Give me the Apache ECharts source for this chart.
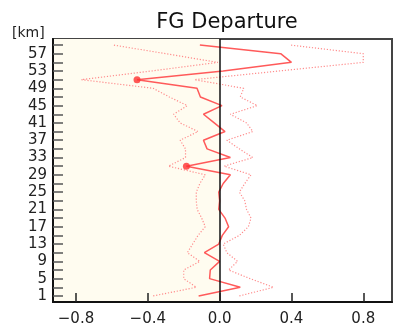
<!DOCTYPE html>
<html>
<head>
<meta charset="utf-8">
<script src="https://cdn.jsdelivr.net/npm/echarts@6/dist/echarts.min.js"></script>
<style>html,body{margin:0;padding:0;background:#fff;}#c{width:394px;height:331px;}</style>
</head>
<body>
<div id="c"></div>
<script>
// Levels (km)
const levels = [1,3,5,7,9,11,13,15,17,19,21,23,25,27,29,31,33,35,37,39,41,43,45,47,49,51,53,55,57,59];
// Mean FG departure (solid)
const meanDep = [-0.117,0.115,-0.056,-0.052,0.0,-0.085,-0.005,0.015,0.05,0.03,-0.005,0.0,-0.005,0.02,0.06,-0.185,0.06,-0.07,-0.09,0.03,-0.03,-0.09,0.013,-0.107,-0.126,-0.46,0.02,0.40,0.34,-0.11];
// Lower dotted envelope
const lowerDep = [-0.37,-0.13,-0.20,-0.20,-0.11,-0.18,-0.15,-0.12,-0.08,-0.10,-0.125,-0.13,-0.13,-0.11,-0.08,-0.285,-0.19,-0.19,-0.22,-0.12,-0.22,-0.256,-0.18,-0.28,-0.37,-0.77,-0.38,-0.01,-0.30,-0.59];
// Upper dotted envelope
const upperDep = [0.11,0.30,0.17,0.05,0.10,0.04,0.02,0.11,0.16,0.175,0.15,0.14,0.11,0.14,0.175,0.025,0.185,0.11,0.04,0.185,0.15,0.06,0.21,0.115,0.134,-0.14,0.33,0.80,0.80,0.394];
// Levels with marked (significant) departures
const markedKm = [51,31];
// Tick labels
const xTicks = [-0.8,-0.4,0.0,0.4,0.8];
const yTickLevels = levels;
const yLabels = [1,5,9,13,17,21,25,29,33,37,41,45,49,53,57];

// x axis works internally in negated tenths on an inverted axis (same visual orientation)
const S = -10;
const pairs = arr => arr.map((v,i)=>[v*S, levels[i]]);
const marked = markedKm.map(k => [meanDep[levels.indexOf(k)]*S, k]);
const xTickInt = xTicks.map(t => Math.round(t*S));

const VMIN = -0.928, VMAX = 0.96, YMIN = -0.4, YMAX = 60.4;
const chart = echarts.init(document.getElementById('c'));
const font = 'DejaVu Sans, sans-serif';
chart.setOption({
  animation:false,
  backgroundColor:'#ffffff',
  title:{text:'FG Departure', left:222, top:7, textAlign:'center',
    textStyle:{fontFamily:font, fontSize:21, fontWeight:'normal', color:'#111'}},
  graphic:[{type:'text', left:12, top:26, style:{text:'[km]', fontFamily:font, fontSize:14, fill:'#222'}}],
  grid:{left:53, right:2, top:39, bottom:29, show:true, borderColor:'#444', borderWidth:2, backgroundColor:'transparent'},
  xAxis:{type:'value', inverse:true, min:VMAX*S, max:VMIN*S, z:10,
    axisLine:{show:true, onZero:false, lineStyle:{color:'#111', width:2}},
    splitLine:{show:false},
    axisTick:{show:true, inside:true, length:9, customValues:xTickInt, lineStyle:{color:'#222', width:1.5}},
    axisLabel:{show:true, customValues:xTickInt, margin:10, fontFamily:font, fontSize:15, color:'#222',
      formatter:v=>{const r=v/S; return (r<-1e-9?'\u2212':'')+Math.abs(r).toFixed(1);}}},
  yAxis:{type:'value', min:YMIN, max:YMAX, z:10,
    axisLine:{show:true, onZero:false, lineStyle:{color:'#111', width:2}},
    splitLine:{show:false},
    axisTick:{show:true, inside:true, length:10, customValues:yTickLevels, lineStyle:{color:'#555', width:1.5}},
    axisLabel:{customValues:yLabels, margin:6, fontFamily:font, fontSize:15, color:'#222'}},
  series:[
    {type:'line', data:pairs(lowerDep), symbol:'none', z:3,
      lineStyle:{color:'#ff8c8c', width:1.2, type:[1.2,1.8]},
      markArea:{silent:true, itemStyle:{color:'#fffcf0'}, data:[[{xAxis:VMIN*S},{xAxis:0}]]},
      markLine:{silent:true, symbol:'none', label:{show:false}, lineStyle:{color:'#111', width:1.5, type:'solid'}, data:[{xAxis:0}]}},
    {type:'line', data:pairs(upperDep), symbol:'none', z:3,
      lineStyle:{color:'#ff8c8c', width:1.2, type:[1.2,1.8]}},
    {type:'line', data:pairs(meanDep), symbol:'none', z:4,
      lineStyle:{color:'#ff5a5a', width:1.5}},
    {type:'scatter', data:marked, symbol:'circle', symbolSize:7, z:5,
      itemStyle:{color:'#ff3030'}}
  ]
});
</script>
</body>
</html>
